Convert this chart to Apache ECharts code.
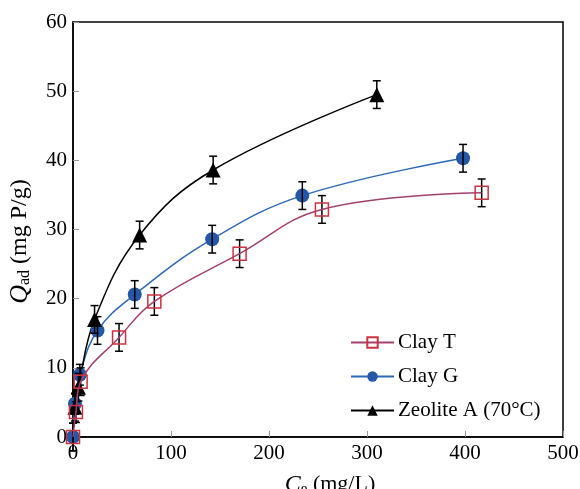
<!DOCTYPE html>
<html>
<head>
<meta charset="utf-8">
<script src="https://cdn.jsdelivr.net/npm/echarts@6/dist/echarts.min.js"></script>
<style>
  html, body { margin: 0; padding: 0; background: #fff; }
  #chart { width: 580px; height: 489px; }
</style>
</head>
<body>
<div id="chart"></div>
<script>
// Data
const ceT = [0, 3, 7.8, 47, 83, 170, 254, 417];
const qT = [0, 3.6, 8.0, 14.4, 19.6, 26.5, 32.9, 35.3];
const errT = [2, 1.5, 2, 2, 2, 2, 2, 2];

const ceG = [0, 2, 7, 25, 63, 142, 234, 398];
const qG = [0, 4.8, 9.0, 15.4, 20.6, 28.6, 34.9, 40.3];
const errG = [2, 1.5, 1.5, 2, 2, 2, 2, 2];

const ceZ = [2, 5.5, 22, 68, 143, 310];
const qZ = [4.3, 7.2, 17.0, 29.2, 38.6, 49.5];
const errZ = [2, 2, 2, 2, 2, 2];

// Helpers
const toXY = (xs, ys) => xs.map((x, i) => [x, ys[i]]);
const toErr = (xs, ys, es) => xs.map((x, i) => [x, ys[i] - es[i], ys[i] + es[i]]);

const FONT = "'Liberation Serif', 'DejaVu Serif', serif";

function errBar(params, api) {
  const x = api.value(0);
  const lo = api.coord([x, api.value(1)]);
  const hi = api.coord([x, api.value(2)]);
  const w = 4;
  const style = { stroke: '#000', lineWidth: 1.5 };
  return {
    type: 'group',
    children: [
      { type: 'line', shape: { x1: hi[0], y1: hi[1], x2: lo[0], y2: lo[1] }, style },
      { type: 'line', shape: { x1: hi[0] - w, y1: hi[1], x2: hi[0] + w, y2: hi[1] }, style },
      { type: 'line', shape: { x1: lo[0] - w, y1: lo[1], x2: lo[0] + w, y2: lo[1] }, style }
    ]
  };
}

const errSeries = (data) => ({
  type: 'custom',
  renderItem: errBar,
  data,
  encode: { x: 0, y: [1, 2] },
  clip: false,
  silent: true,
  z: 3
});

// axis title styles (italic symbol + subscript + unit)
const nameStyle = (size, pad) => ({
  fontFamily: FONT, fontSize: size, color: '#000', padding: pad,
  rich: {
    i: { fontFamily: FONT, fontSize: size, fontStyle: 'italic', color: '#000' },
    s: { fontFamily: FONT, fontSize: Math.round(size * 0.62), color: '#000', verticalAlign: 'bottom', padding: [10, 0, 0, 0] },
    t: { fontFamily: FONT, fontSize: size - 2, color: '#000' }
  }
});

const chart = echarts.init(document.getElementById('chart'), null, { renderer: 'canvas' });
chart.setOption({
  animation: false,
  backgroundColor: '#fff',
  grid: {
    left: 73, right: 17, top: 22, bottom: 52,
    containLabel: false, outerBoundsMode: 'none',
    show: true, borderColor: '#000', borderWidth: 1.5
  },
  legend: {
    orient: 'vertical',
    left: 345,
    top: 327,
    itemWidth: 43,
    itemHeight: 13,
    itemGap: 13,
    data: ['Clay T', 'Clay G', 'Zeolite A (70°C)'],
    textStyle: { fontFamily: FONT, fontSize: 21, color: '#000', padding: [0, 0, 0, -1] }
  },
  xAxis: {
    type: 'value', min: 0, max: 500, interval: 100,
    name: '{i|C}{s|e}{t| (mg/L)}',
    nameLocation: 'middle', nameGap: 35,
    nameTextStyle: nameStyle(24, [0, 0, 0, 24]),
    axisLine: { lineStyle: { color: '#000', width: 1.5 } },
    axisTick: { inside: true, length: 6, lineStyle: { color: '#999' } },
    axisLabel: { fontFamily: FONT, fontSize: 21, color: '#000', margin: 6 },
    splitLine: { show: false }
  },
  yAxis: {
    type: 'value', min: 0, max: 60, interval: 10,
    name: '{i|Q}{s|ad}{t| (mg P/g)}',
    nameLocation: 'middle', nameGap: 40,
    nameTextStyle: nameStyle(26, [0, 24, 0, 0]),
    axisLine: { lineStyle: { color: '#000', width: 1.5 } },
    axisTick: { inside: true, length: 6, lineStyle: { color: '#999' } },
    axisLabel: { fontFamily: FONT, fontSize: 21, color: '#000', margin: 6 },
    splitLine: { show: false }
  },
  series: [
    errSeries(toErr(ceT, qT, errT)),
    errSeries(toErr(ceG, qG, errG)),
    errSeries(toErr(ceZ, qZ, errZ)),
    {
      name: 'Clay T', type: 'line', data: toXY(ceT, qT), smooth: 0.4, clip: false,
      symbol: 'rect', symbolSize: 13, z: 4,
      lineStyle: { color: '#a3406f', width: 1.5 },
      itemStyle: { color: 'rgba(255,255,255,0)', borderColor: '#cc3340', borderWidth: 1.5 }
    },
    {
      name: 'Clay G', type: 'line', data: toXY(ceG, qG), smooth: 0.4, clip: false,
      symbol: 'circle', symbolSize: 14, z: 2,
      lineStyle: { color: '#2d68b8', width: 1.5 },
      itemStyle: { color: '#2457a6' }
    },
    {
      name: 'Zeolite A (70°C)', type: 'line', data: toXY(ceZ, qZ), smooth: 0.4, clip: false,
      symbol: 'triangle', symbolSize: 15, z: 2,
      lineStyle: { color: '#000', width: 1.5 },
      itemStyle: { color: '#000' }
    }
  ]
});
</script>
</body>
</html>
